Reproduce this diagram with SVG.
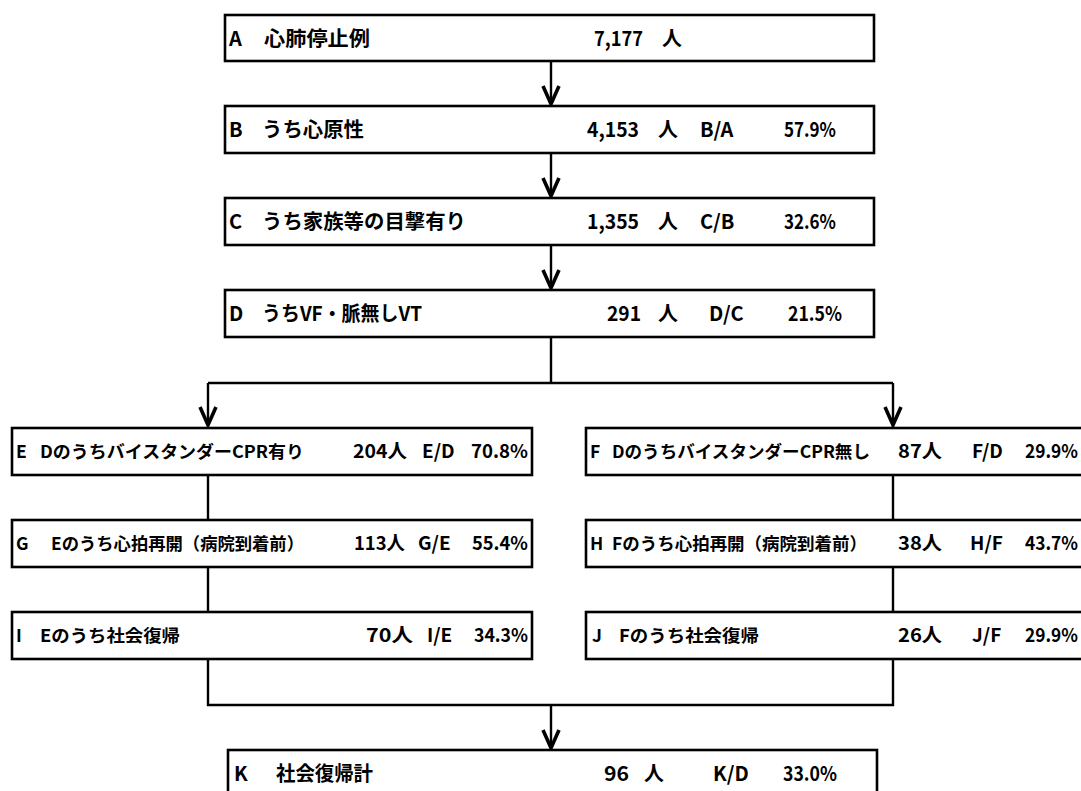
<svg xmlns="http://www.w3.org/2000/svg" width="1081" height="791" viewBox="0 0 1081 791">
<style>
.box{fill:#fff;stroke:#000;stroke-width:2.6}
.ln{fill:none;stroke:#000;stroke-width:2.4}
.t{font-family:"Noto Sans CJK JP","Noto Sans",sans-serif;font-weight:bold;font-size:20px;fill:#000}
.s{font-size:17.5px}
.n{font-size:19px}
</style>
<defs>
<marker id="ah" markerWidth="24" markerHeight="20" refX="21" refY="10" orient="auto" markerUnits="userSpaceOnUse" viewBox="0 0 24 20">
<path d="M3,2 L21,10 L3,18" fill="none" stroke="#000" stroke-width="3.6" stroke-linejoin="miter"/>
</marker>
</defs>
<g id="connectors">
<line class="ln" x1="551" y1="61" x2="551" y2="104" marker-end="url(#ah)"/>
<line class="ln" x1="551" y1="153" x2="551" y2="196" marker-end="url(#ah)"/>
<line class="ln" x1="551" y1="245" x2="551" y2="288" marker-end="url(#ah)"/>
<polyline class="ln" points="551,337 551,383"/>
<polyline class="ln" points="208,383 893,383"/>
<line class="ln" x1="208" y1="383" x2="208" y2="425" marker-end="url(#ah)"/>
<line class="ln" x1="893" y1="383" x2="893" y2="425" marker-end="url(#ah)"/>
<line class="ln" x1="208" y1="475" x2="208" y2="520"/>
<line class="ln" x1="208" y1="567" x2="208" y2="612"/>
<line class="ln" x1="893" y1="475" x2="893" y2="520"/>
<line class="ln" x1="893" y1="567" x2="893" y2="612"/>
<polyline class="ln" points="208,659 208,705 893,705 893,659"/>
<line class="ln" x1="551" y1="705" x2="551" y2="748" marker-end="url(#ah)"/>
</g>
<g id="nodeA"><rect class="box" x="225" y="15" width="649" height="46"/>
<text class="t" x="229" y="46">A</text><text class="t" x="264" y="46" textLength="106" lengthAdjust="spacingAndGlyphs">心肺停止例</text><text class="t" x="594" y="46" textLength="49" lengthAdjust="spacingAndGlyphs">7,177</text><text class="t" x="662" y="46">人</text></g>
<g id="nodeB"><rect class="box" x="225" y="106" width="649" height="47"/>
<text class="t" x="229" y="137">B</text><text class="t" x="262" y="137" textLength="102" lengthAdjust="spacingAndGlyphs">うち心原性</text><text class="t" x="587" y="137" textLength="52" lengthAdjust="spacingAndGlyphs">4,153</text><text class="t" x="658" y="137">人</text><text class="t" x="700" y="137">B/A</text><text class="t" x="784" y="137" textLength="52" lengthAdjust="spacingAndGlyphs">57.9%</text></g>
<g id="nodeC"><rect class="box" x="225" y="198" width="649" height="47"/>
<text class="t" x="229" y="229">C</text><text class="t" x="262" y="229" textLength="204" lengthAdjust="spacingAndGlyphs">うち家族等の目撃有り</text><text class="t" x="587" y="229" textLength="52" lengthAdjust="spacingAndGlyphs">1,355</text><text class="t" x="658" y="229">人</text><text class="t" x="700" y="229">C/B</text><text class="t" x="784" y="229" textLength="52" lengthAdjust="spacingAndGlyphs">32.6%</text></g>
<g id="nodeD"><rect class="box" x="225" y="290" width="649" height="47"/>
<text class="t" x="229" y="321">D</text><text class="t" x="262" y="321" textLength="160" lengthAdjust="spacingAndGlyphs">うちVF・脈無しVT</text><text class="t" x="607" y="321" textLength="34" lengthAdjust="spacingAndGlyphs">291</text><text class="t" x="658" y="321">人</text><text class="t" x="709" y="321">D/C</text><text class="t" x="788" y="321" textLength="54" lengthAdjust="spacingAndGlyphs">21.5%</text></g>
<g id="nodeE"><rect class="box" x="12" y="428" width="520" height="47"/>
<text class="t s" x="16" y="458">E</text><text class="t s" x="40" y="458" textLength="264" lengthAdjust="spacingAndGlyphs">DのうちバイスタンダーCPR有り</text><text class="t n" x="353" y="458" textLength="54" lengthAdjust="spacingAndGlyphs">204人</text><text class="t n" x="422" y="458">E/D</text><text class="t n" x="471" y="458" textLength="57" lengthAdjust="spacingAndGlyphs">70.8%</text></g>
<g id="nodeF"><rect class="box" x="586" y="428" width="510" height="47"/>
<text class="t s" x="590" y="458">F</text><text class="t s" x="612" y="458" textLength="258" lengthAdjust="spacingAndGlyphs">DのうちバイスタンダーCPR無し</text><text class="t n" x="898" y="458" textLength="44" lengthAdjust="spacingAndGlyphs">87人</text><text class="t n" x="972" y="458">F/D</text><text class="t n" x="1025" y="458" textLength="53" lengthAdjust="spacingAndGlyphs">29.9%</text></g>
<g id="nodeG"><rect class="box" x="12" y="520" width="520" height="47"/>
<text class="t s" x="16" y="550">G</text><text class="t s" x="51" y="550" textLength="253" lengthAdjust="spacingAndGlyphs">Eのうち心拍再開（病院到着前）</text><text class="t n" x="354" y="550" textLength="51" lengthAdjust="spacingAndGlyphs">113人</text><text class="t n" x="418" y="550">G/E</text><text class="t n" x="472" y="550" textLength="56" lengthAdjust="spacingAndGlyphs">55.4%</text></g>
<g id="nodeH"><rect class="box" x="586" y="520" width="510" height="47"/>
<text class="t s" x="590" y="550">H</text><text class="t s" x="612" y="550" textLength="255" lengthAdjust="spacingAndGlyphs">Fのうち心拍再開（病院到着前）</text><text class="t n" x="898" y="550" textLength="44" lengthAdjust="spacingAndGlyphs">38人</text><text class="t n" x="970" y="550">H/F</text><text class="t n" x="1025" y="550" textLength="53" lengthAdjust="spacingAndGlyphs">43.7%</text></g>
<g id="nodeI"><rect class="box" x="12" y="612" width="520" height="47"/>
<text class="t s" x="16" y="642">I</text><text class="t s" x="40" y="642" textLength="140" lengthAdjust="spacingAndGlyphs">Eのうち社会復帰</text><text class="t n" x="366" y="642" textLength="47" lengthAdjust="spacingAndGlyphs">70人</text><text class="t n" x="427" y="642">I/E</text><text class="t n" x="474" y="642" textLength="54" lengthAdjust="spacingAndGlyphs">34.3%</text></g>
<g id="nodeJ"><rect class="box" x="586" y="612" width="510" height="47"/>
<text class="t s" x="592" y="642">J</text><text class="t s" x="619" y="642" textLength="140" lengthAdjust="spacingAndGlyphs">Fのうち社会復帰</text><text class="t n" x="898" y="642" textLength="44" lengthAdjust="spacingAndGlyphs">26人</text><text class="t n" x="972" y="642">J/F</text><text class="t n" x="1025" y="642" textLength="53" lengthAdjust="spacingAndGlyphs">29.9%</text></g>
<g id="nodeK"><rect class="box" x="228" y="750" width="649" height="47"/>
<text class="t" x="234" y="781">K</text><text class="t" x="276" y="781" textLength="97" lengthAdjust="spacingAndGlyphs">社会復帰計</text><text class="t" x="604" y="781" textLength="25" lengthAdjust="spacingAndGlyphs">96</text><text class="t" x="644" y="781">人</text><text class="t" x="713" y="781">K/D</text><text class="t" x="783" y="781" textLength="54" lengthAdjust="spacingAndGlyphs">33.0%</text></g>
</svg>
